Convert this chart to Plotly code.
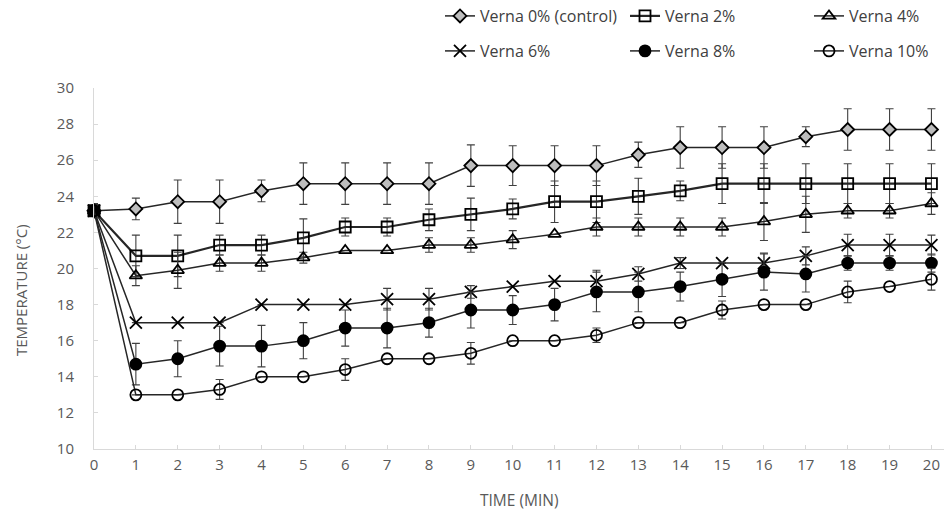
import plotly.graph_objects as go

time_min = list(range(0, 21))

series_names = ["Verna 0% (control)", "Verna 2%", "Verna 4%", "Verna 6%", "Verna 8%", "Verna 10%"]

verna_0 = [23.2, 23.3, 23.7, 23.7, 24.3, 24.7, 24.7, 24.7, 24.7, 25.7, 25.7,
           25.7, 25.7, 26.3, 26.7, 26.7, 26.7, 27.3, 27.7, 27.7, 27.7]
verna_0_err = [0.4, 0.6, 1.2, 1.2, 0.6, 1.15, 1.15, 1.15, 1.15, 1.15, 1.1,
               1.1, 1.1, 0.7, 1.15, 1.15, 1.15, 0.55, 1.15, 1.15, 1.15]

verna_2 = [23.2, 20.7, 20.7, 21.3, 21.3, 21.7, 22.3, 22.3, 22.7, 23.0, 23.3,
           23.7, 23.7, 24.0, 24.3, 24.7, 24.7, 24.7, 24.7, 24.7, 24.7]
verna_2_err = [0.3, 1.15, 1.15, 0.55, 0.55, 1.05, 0.5, 0.5, 0.6, 0.9, 0.55,
               1.15, 1.15, 1.0, 0.55, 1.1, 1.1, 1.1, 1.1, 1.1, 1.1]

verna_4 = [23.2, 19.6, 19.9, 20.3, 20.3, 20.6, 21.0, 21.0, 21.3, 21.3, 21.6,
           21.9, 22.3, 22.3, 22.3, 22.3, 22.6, 23.0, 23.2, 23.2, 23.6]
verna_4_err = [0.3, 0.55, 1.0, 0.45, 0.45, 0.3, 0.0, 0.0, 0.4, 0.4, 0.5,
               0.0, 0.5, 0.5, 0.5, 0.5, 1.05, 1.0, 0.4, 0.4, 0.6]

verna_6 = [23.2, 17.0, 17.0, 17.0, 18.0, 18.0, 18.0, 18.3, 18.3, 18.7, 19.0,
           19.3, 19.3, 19.7, 20.3, 20.3, 20.3, 20.7, 21.3, 21.3, 21.3]
verna_6_err = [0.3, 0.0, 0.0, 0.0, 0.0, 0.0, 0.0, 0.6, 0.6, 0.35, 0.0,
               0.0, 0.6, 0.4, 0.3, 0.0, 0.55, 0.5, 0.6, 0.6, 0.55]

verna_8 = [23.2, 14.7, 15.0, 15.7, 15.7, 16.0, 16.7, 16.7, 17.0, 17.7, 17.7,
           18.0, 18.7, 18.7, 19.0, 19.4, 19.8, 19.7, 20.3, 20.3, 20.3]
verna_8_err = [0.3, 1.15, 1.0, 1.1, 1.15, 1.0, 1.0, 1.1, 0.8, 1.0, 0.8,
               0.9, 1.1, 1.1, 0.8, 0.95, 1.0, 1.0, 0.4, 0.4, 0.5]

verna_10 = [23.2, 13.0, 13.0, 13.3, 14.0, 14.0, 14.4, 15.0, 15.0, 15.3, 16.0,
            16.0, 16.3, 17.0, 17.0, 17.7, 18.0, 18.0, 18.7, 19.0, 19.4]
verna_10_err = [0.3, 0.0, 0.0, 0.55, 0.0, 0.0, 0.6, 0.0, 0.0, 0.6, 0.0,
                0.0, 0.4, 0.0, 0.0, 0.5, 0.0, 0.0, 0.6, 0.0, 0.6]

y_ticks = [10, 12, 14, 16, 18, 20, 22, 24, 26, 28, 30]

values = [verna_0, verna_2, verna_4, verna_6, verna_8, verna_10]
errors = [verna_0_err, verna_2_err, verna_4_err, verna_6_err, verna_8_err, verna_10_err]

symbols = ["diamond", "square-open", "triangle-up-open", "x-thin-open", "circle", "circle-open"]
marker_fill = ["#bdbdbd", "#000000", "#000000", "#000000", "#000000", "#000000"]
marker_size = [10, 11, 11, 12, 11, 11]
line_width = [1.5, 2.2, 1.5, 1.5, 1.5, 1.5]

legend_keys = ["legend", "legend2", "legend3", "legend4", "legend5", "legend6"]
legend_pos = [(440, 16), (625, 16), (809, 16),
              (440, 51), (625, 51), (809, 51)]

FONT = "Open Sans"
W, H = 944, 517

fig = go.Figure()
for i, name in enumerate(series_names):
    fig.add_trace(go.Scatter(
        x=time_min, y=values[i], name=name, mode="lines+markers",
        line=dict(color="#262626", width=line_width[i]),
        marker=dict(symbol=symbols[i], size=marker_size[i], color=marker_fill[i],
                    line=dict(color="#000000", width=1.8)),
        error_y=dict(type="data", array=errors[i], visible=True,
                     color="#404040", thickness=1.1, width=4),
        legend=legend_keys[i],
        cliponaxis=False,
    ))

layout_legends = {}
for i, key in enumerate(legend_keys):
    layout_legends[key] = dict(
        x=legend_pos[i][0] / W, y=1 - legend_pos[i][1] / H,
        xref="container", yref="container",
        xanchor="left", yanchor="middle",
        bgcolor="rgba(0,0,0,0)", font=dict(family=FONT, size=16, color="#404040"),
        itemwidth=30,
    )

fig.update_layout(
    width=W, height=H,
    margin=dict(l=94, r=0, t=88, b=68, autoexpand=False),
    paper_bgcolor="white", plot_bgcolor="white",
    showlegend=True,
    font=dict(family=FONT, color="#595959"),
    annotations=[
        dict(text="TIME (MIN)", xref="paper", yref="paper", x=0.5, y=-0.141,
             xanchor="center", yanchor="middle", showarrow=False,
             font=dict(family=FONT, size=15.5, color="#595959")),
        dict(text="TEMPERATURE (°C)", xref="paper", yref="paper",
             x=(21 - 94) / 850, y=(449 - 290) / 361, textangle=-90,
             xanchor="center", yanchor="middle", showarrow=False,
             font=dict(family=FONT, size=15, color="#595959")),
    ],
    **layout_legends,
)

fig.update_xaxes(
    range=[0, 20.3], tickmode="array", tickvals=time_min,
    ticktext=[str(t) for t in time_min],
    showgrid=False, zeroline=False, automargin=False,
    showline=True, linecolor="#d9d9d9", linewidth=1,
    ticks="inside", ticklen=4, tickcolor="#d9d9d9",
    tickfont=dict(family=FONT, size=15, color="#595959"),
    ticklabelstandoff=2, ticklabeloverflow="allow",
)
fig.update_yaxes(
    range=[10, 30], tickmode="array", tickvals=y_ticks,
    showgrid=False, zeroline=False, automargin=False,
    showline=True, linecolor="#d9d9d9", linewidth=1,
    ticks="inside", ticklen=4, tickcolor="#d9d9d9",
    tickfont=dict(family=FONT, size=15, color="#595959"),
    ticklabelstandoff=16,
)

fig.write_html("out.html", config={"displayModeBar": False},
               post_script="document.body.style.margin='0';")
